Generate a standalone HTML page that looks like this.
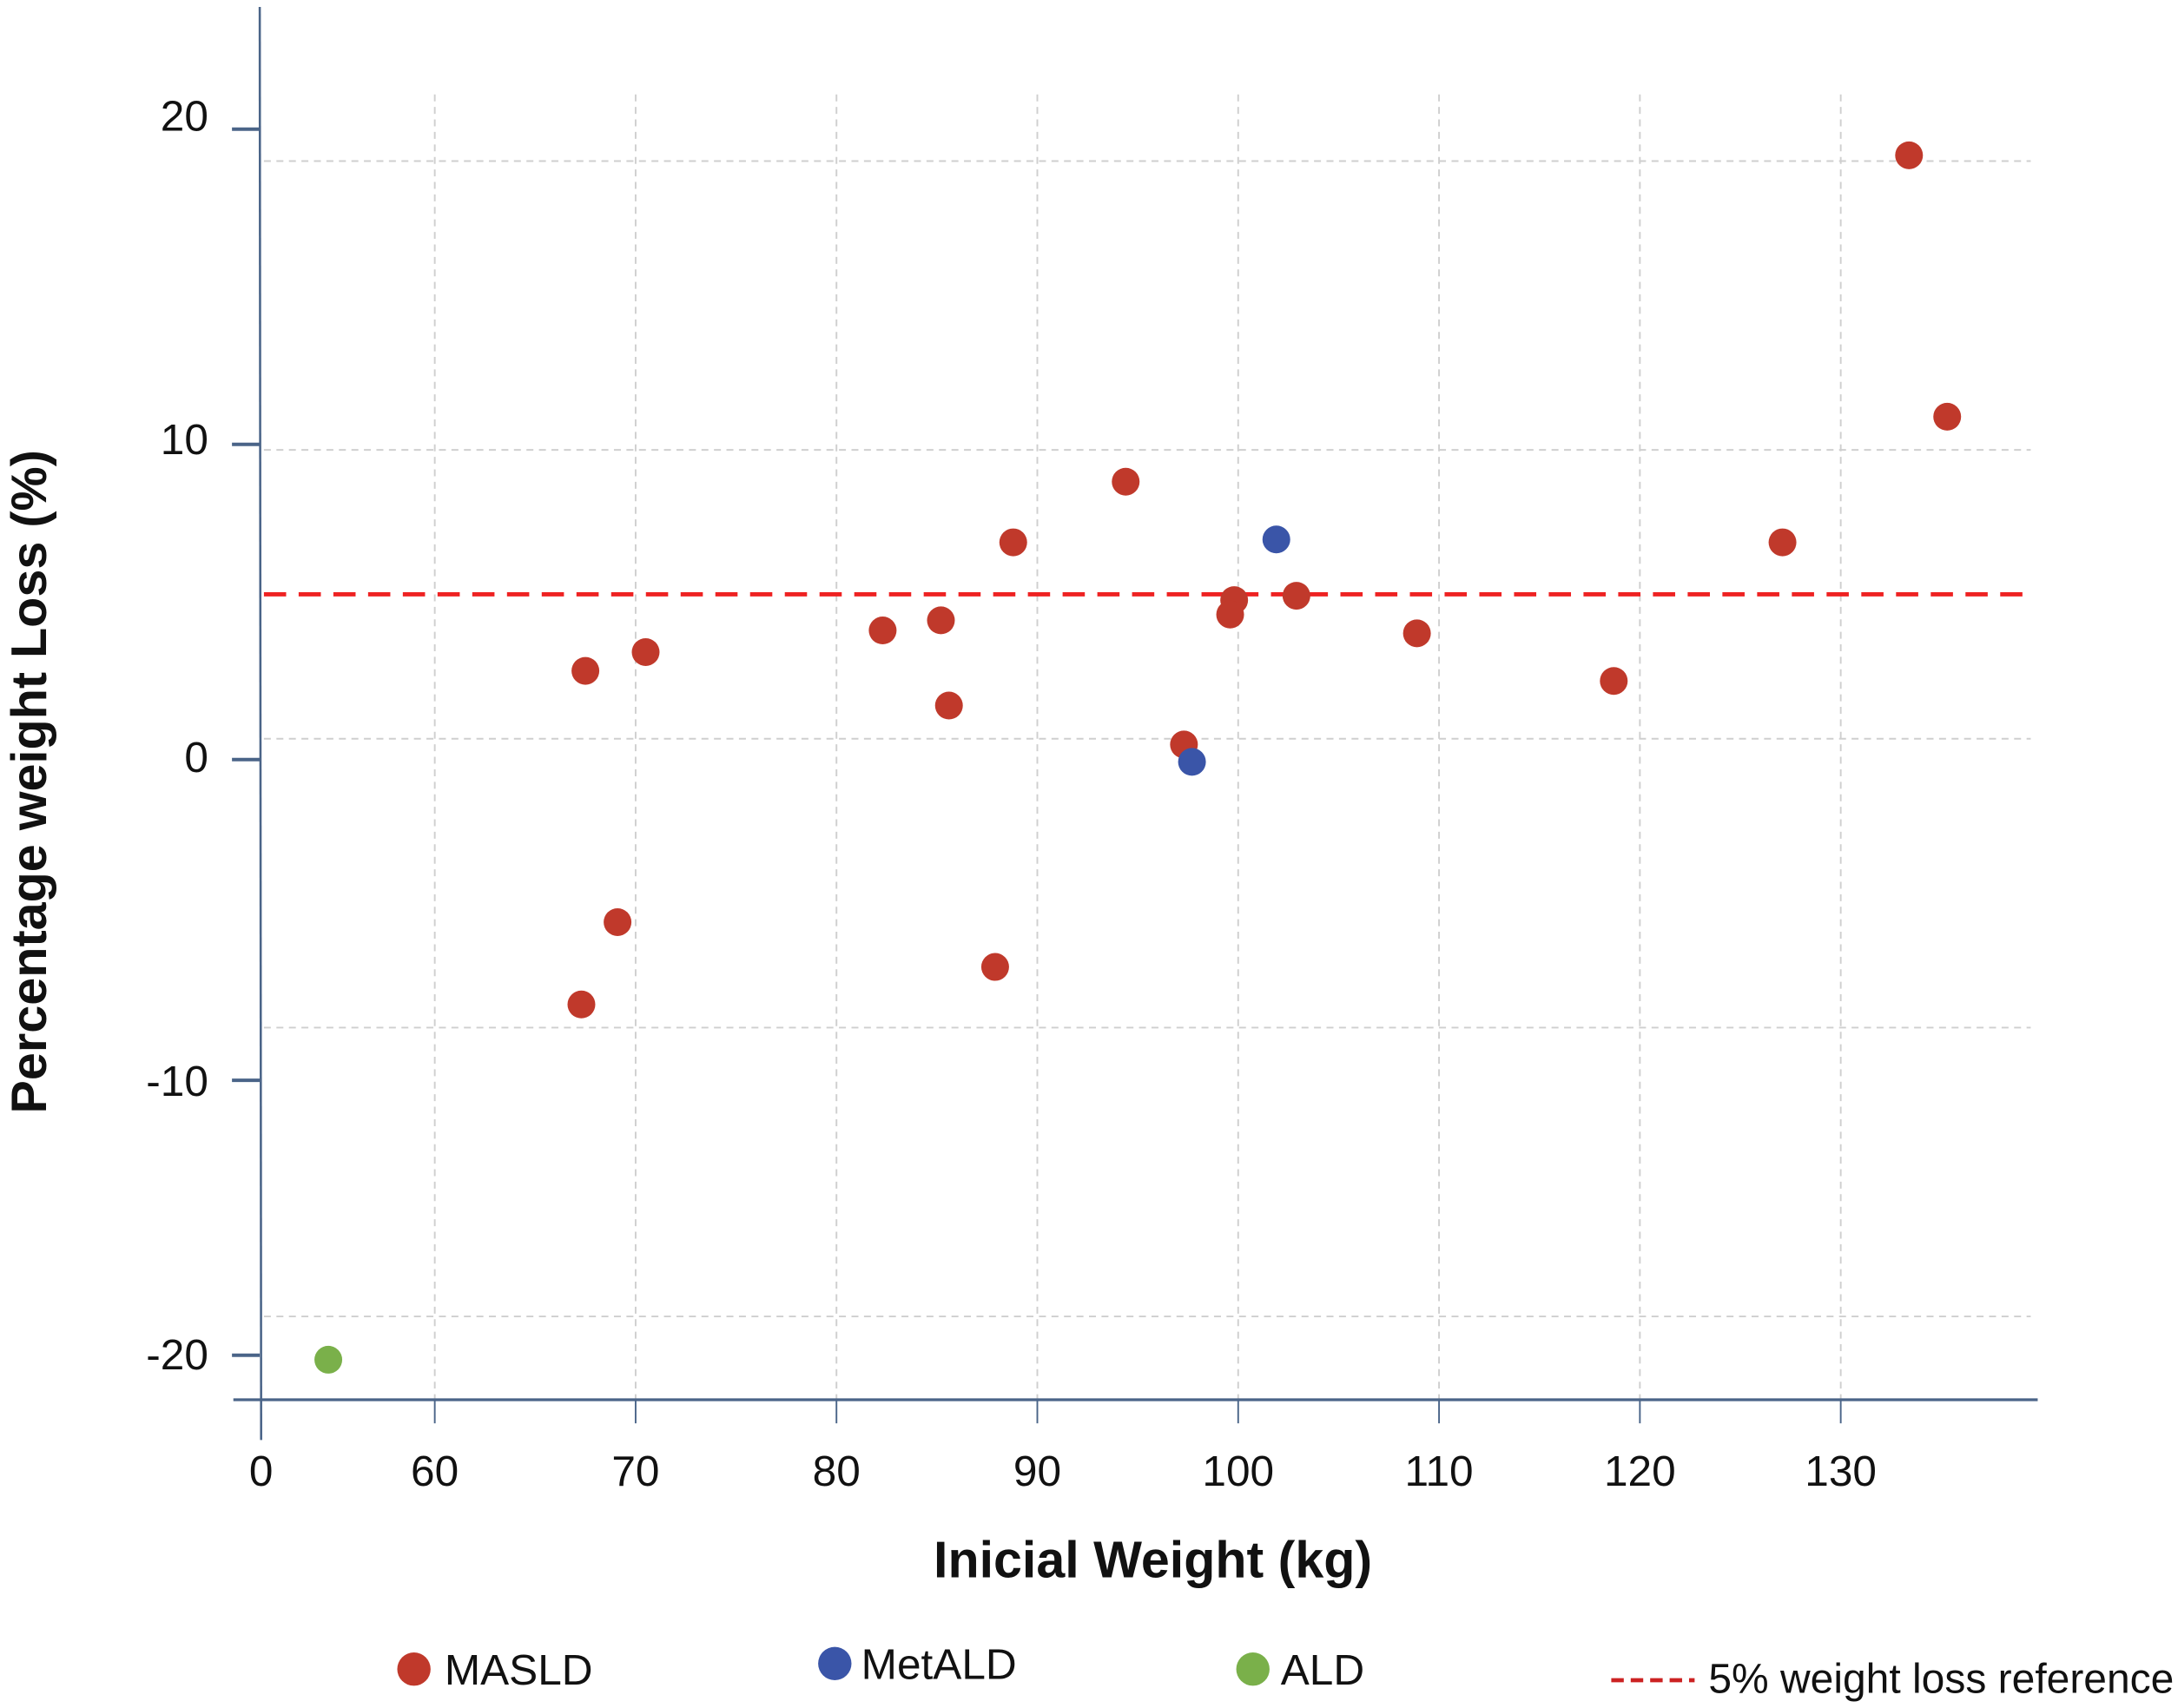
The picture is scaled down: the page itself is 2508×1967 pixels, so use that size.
<!DOCTYPE html>
<html><head><meta charset="utf-8"><style>
html,body{margin:0;padding:0;background:#fff;}
svg{display:block;}
text{font-family:"Liberation Sans",sans-serif;fill:#111;}
</style></head><body>
<svg id="chart" width="2508" height="1967" viewBox="0 0 1568 1230" preserveAspectRatio="none" xmlns="http://www.w3.org/2000/svg">
<g id="grid"></g>
<g id="axes">
<line x1="187" y1="5" x2="188" y2="1037" stroke="#4a6488" stroke-width="1.6"/>
<line x1="168" y1="1008" x2="1467" y2="1008" stroke="#4a6488" stroke-width="2"/>
</g>
<g id="ticks"></g>
<line id="refline" x1="190" x2="1462" stroke="#ee2222" stroke-width="3" stroke-dasharray="16,9"/>
<g id="points"></g>
<text transform="translate(33,563) rotate(-90)" text-anchor="middle" font-size="36" font-weight="bold">Percentage weight Loss (%)</text>
<text x="830" y="1136" text-anchor="middle" font-size="37" font-weight="bold">Inicial Weight (kg)</text>
<g>
<circle cx="298" cy="1202" r="12" fill="#c0392b"/>
<text x="320" y="1213" font-size="31">MASLD</text>
<circle cx="601" cy="1198" r="12" fill="#3a55a8"/>
<text x="620" y="1209" font-size="31">MetALD</text>
<circle cx="902" cy="1202" r="12" fill="#7ab04a"/>
<text x="922" y="1213" font-size="31">ALD</text>
<line x1="1160" y1="1210" x2="1220" y2="1210" stroke="#cc2222" stroke-width="3" stroke-dasharray="9,5"/>
<text x="1230" y="1219" font-size="30">5% weight loss reference</text>
</g>
</svg>
<script>
const xTicks=[60,70,80,90,100,110,120,130];
const yTicks=[20,10,0,-10,-20];
const refValue=5;
const maslX=[133.4,135.3,127.1,118.7,108.9,102.9,99.8,99.6,97.3,94.4,88.8,85.6,85.2,82.3,70.5,67.5,69.1,67.3,87.9];
const maslY=[20.2,11.15,6.8,2.0,3.65,4.95,4.8,4.3,-0.2,8.9,6.8,1.15,4.1,3.75,3.0,2.35,-6.35,-9.2,-7.9];
const metX=[101.9,97.7];
const metY=[6.9,-0.8];
const aldX=[54.7];
const aldY=[-21.5];
const NS="http://www.w3.org/2000/svg";
function sx(v){return 313+(v-60)*14.46;}
function sy(v){return 532-v*20.8;}
function mk(tag,attrs,parent){const e=document.createElementNS(NS,tag);for(const k in attrs)e.setAttribute(k,attrs[k]);parent.appendChild(e);return e;}
const grid=document.getElementById('grid'),ticks=document.getElementById('ticks'),pts=document.getElementById('points');
const yLabelPos=[83,316,545,778,975];
const yTickPos=[93,320,547,778,976];
yTicks.forEach((t,i)=>{
  const g=mk('line',{x1:190,x2:1462,y1:sy(t),y2:sy(t),stroke:'#cfcfcf','stroke-width':1.2,'stroke-dasharray':'5,4'},grid);
  
  
  const tk=mk('line',{x1:167,x2:187,y1:yTickPos[i],y2:yTickPos[i],stroke:'#4a6488','stroke-width':2.5},ticks);
  
  
  const lb=mk('text',{x:150,y:yLabelPos[i]+11,'text-anchor':'end','font-size':31},ticks);
  lb.textContent=String(t);
  
  
});
xTicks.forEach(t=>{
  const g=mk('line',{x1:sx(t),x2:sx(t),y1:68,y2:1008,stroke:'#cfcfcf','stroke-width':1.2,'stroke-dasharray':'5,4'},grid);
  
  
  const tk=mk('line',{x1:sx(t),x2:sx(t),y1:1008,y2:1025,stroke:'#4a6488','stroke-width':1.2},ticks);
  
  
  const lb=mk('text',{x:sx(t),y:1070,'text-anchor':'middle','font-size':31},ticks);
  lb.textContent=String(t);
  
  
});
const z=mk('text',{x:188,y:1070,'text-anchor':'middle','font-size':31},ticks);
z.textContent='0';


const ref=document.getElementById('refline');
ref.setAttribute('y1',sy(refValue));ref.setAttribute('y2',sy(refValue));
function drawSeries(xs,ys,color,name){
  xs.forEach((x,i)=>{
    const c=mk('circle',{cx:sx(x),cy:sy(ys[i]),r:10,fill:color},pts);
    
    
  });
}
drawSeries(maslX,maslY,'#c0392b','point-masld');
drawSeries(metX,metY,'#3a55a8','point-metald');
drawSeries(aldX,aldY,'#7ab04a','point-ald');
</script>
</body></html>
